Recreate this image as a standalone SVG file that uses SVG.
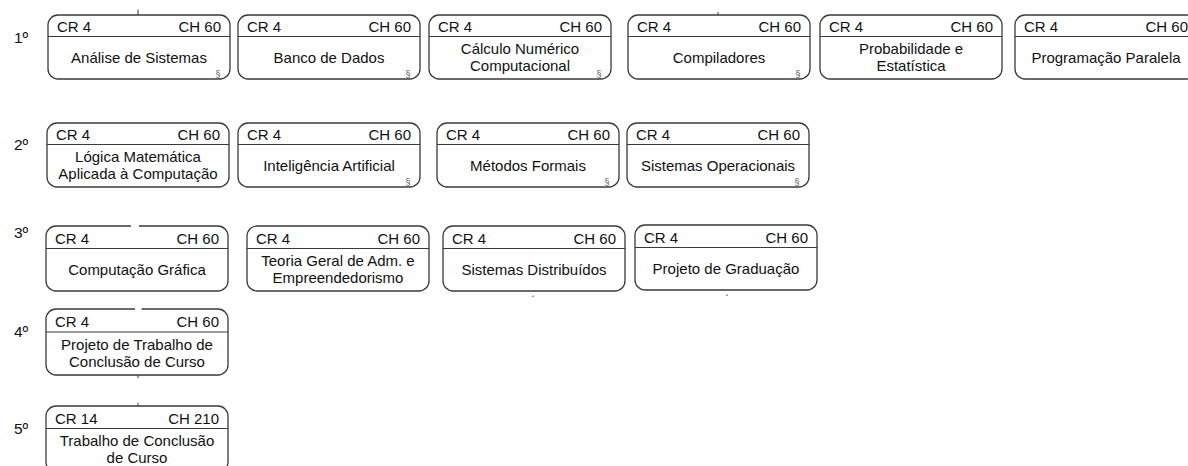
<svg xmlns="http://www.w3.org/2000/svg" width="1188" height="466" viewBox="0 0 1188 466">
  <defs>
    <style>
      .box { fill: #ffffff; stroke: #3a3a3a; stroke-width: 1.3; }
      .sep { stroke: #3a3a3a; stroke-width: 1.2; }
      text { font-family: "Liberation Sans", Arial, Helvetica, sans-serif; font-size: 15px; fill: #111111; }
      .cr { text-anchor: start; }
      .ch { text-anchor: end; }
      .t { text-anchor: middle; }
      .sec { font-size: 9px; fill: #555555; text-anchor: middle; }
      .sem { font-size: 15.5px; }
      .tick { stroke: #3a3a3a; stroke-width: 1; }
      .cut { stroke: #ffffff; stroke-width: 3; }
    </style>
  </defs>

  <rect width="1188" height="466" fill="#ffffff"/>

  <!-- semester labels -->
  <g id="semesters">
    <text class="sem" x="14" y="43">1º</text>
    <text class="sem" x="14" y="150">2º</text>
    <text class="sem" x="14" y="238">3º</text>
    <text class="sem" x="14" y="337">4º</text>
    <text class="sem" x="14" y="434">5º</text>
  </g>

  <!-- 1st semester -->
  <g id="analise-sistemas" transform="translate(48,15)">
    <rect class="box" x="0" y="0" width="182" height="64" rx="10"/>
    <line class="sep" x1="0" y1="21.5" x2="182" y2="21.5"/>
    <text class="cr" x="9" y="16.5">CR 4</text>
    <text class="ch" x="173" y="16.5">CH 60</text>
    <text class="t" x="91" y="47.8">Análise de Sistemas</text>
    <text class="sec" x="170" y="62">§</text>
  </g>
  <g id="banco-dados" transform="translate(238,15)">
    <rect class="box" x="0" y="0" width="182" height="64" rx="10"/>
    <line class="sep" x1="0" y1="21.5" x2="182" y2="21.5"/>
    <text class="cr" x="9" y="16.5">CR 4</text>
    <text class="ch" x="173" y="16.5">CH 60</text>
    <text class="t" x="91" y="47.8">Banco de Dados</text>
    <text class="sec" x="170" y="62">§</text>
  </g>
  <g id="calculo-numerico" transform="translate(429,15)">
    <rect class="box" x="0" y="0" width="182" height="64" rx="10"/>
    <line class="sep" x1="0" y1="21.5" x2="182" y2="21.5"/>
    <text class="cr" x="9" y="16.5">CR 4</text>
    <text class="ch" x="173" y="16.5">CH 60</text>
    <text class="t" x="91" y="39.3">Cálculo Numérico</text>
    <text class="t" x="91" y="56.3">Computacional</text>
    <text class="sec" x="170" y="62">§</text>
  </g>
  <g id="compiladores" transform="translate(628,15)">
    <rect class="box" x="0" y="0" width="182" height="64" rx="10"/>
    <line class="sep" x1="0" y1="21.5" x2="182" y2="21.5"/>
    <text class="cr" x="9" y="16.5">CR 4</text>
    <text class="ch" x="173" y="16.5">CH 60</text>
    <text class="t" x="91" y="47.8">Compiladores</text>
    <text class="sec" x="170" y="62">§</text>
  </g>
  <g id="probabilidade-estatistica" transform="translate(820,15)">
    <rect class="box" x="0" y="0" width="182" height="64" rx="10"/>
    <line class="sep" x1="0" y1="21.5" x2="182" y2="21.5"/>
    <text class="cr" x="9" y="16.5">CR 4</text>
    <text class="ch" x="173" y="16.5">CH 60</text>
    <text class="t" x="91" y="39.3">Probabilidade e</text>
    <text class="t" x="91" y="56.3">Estatística</text>
  </g>
  <g id="programacao-paralela" transform="translate(1015,15)">
    <rect class="box" x="0" y="0" width="182" height="64" rx="10"/>
    <line class="sep" x1="0" y1="21.5" x2="182" y2="21.5"/>
    <text class="cr" x="9" y="16.5">CR 4</text>
    <text class="ch" x="173" y="16.5">CH 60</text>
    <text class="t" x="91" y="47.8">Programação Paralela</text>
  </g>

  <!-- 2nd semester -->
  <g id="logica-matematica" transform="translate(47,123)">
    <rect class="box" x="0" y="0" width="182" height="64" rx="10"/>
    <line class="sep" x1="0" y1="21.5" x2="182" y2="21.5"/>
    <text class="cr" x="9" y="16.5">CR 4</text>
    <text class="ch" x="173" y="16.5">CH 60</text>
    <text class="t" x="91" y="39.3">Lógica Matemática</text>
    <text class="t" x="91" y="56.3">Aplicada à Computação</text>
  </g>
  <g id="inteligencia-artificial" transform="translate(238,123)">
    <rect class="box" x="0" y="0" width="182" height="64" rx="10"/>
    <line class="sep" x1="0" y1="21.5" x2="182" y2="21.5"/>
    <text class="cr" x="9" y="16.5">CR 4</text>
    <text class="ch" x="173" y="16.5">CH 60</text>
    <text class="t" x="91" y="47.8">Inteligência Artificial</text>
    <text class="sec" x="170" y="62">§</text>
  </g>
  <g id="metodos-formais" transform="translate(437,123)">
    <rect class="box" x="0" y="0" width="182" height="64" rx="10"/>
    <line class="sep" x1="0" y1="21.5" x2="182" y2="21.5"/>
    <text class="cr" x="9" y="16.5">CR 4</text>
    <text class="ch" x="173" y="16.5">CH 60</text>
    <text class="t" x="91" y="47.8">Métodos Formais</text>
    <text class="sec" x="170" y="62">§</text>
  </g>
  <g id="sistemas-operacionais" transform="translate(627,123)">
    <rect class="box" x="0" y="0" width="182" height="64" rx="10"/>
    <line class="sep" x1="0" y1="21.5" x2="182" y2="21.5"/>
    <text class="cr" x="9" y="16.5">CR 4</text>
    <text class="ch" x="173" y="16.5">CH 60</text>
    <text class="t" x="91" y="47.8">Sistemas Operacionais</text>
    <text class="sec" x="170" y="62">§</text>
  </g>

  <!-- 3rd semester -->
  <g id="computacao-grafica" transform="translate(46,226)">
    <rect class="box" x="0" y="0" width="182" height="65" rx="10"/>
    <line class="sep" x1="0" y1="22.5" x2="182" y2="22.5"/>
    <text class="cr" x="9" y="17.5">CR 4</text>
    <text class="ch" x="173" y="17.5">CH 60</text>
    <text class="t" x="91" y="48.8">Computação Gráfica</text>
  </g>
  <g id="teoria-geral-adm" transform="translate(247,226)">
    <rect class="box" x="0" y="0" width="182" height="65" rx="10"/>
    <line class="sep" x1="0" y1="22.5" x2="182" y2="22.5"/>
    <text class="cr" x="9" y="17.5">CR 4</text>
    <text class="ch" x="173" y="17.5">CH 60</text>
    <text class="t" x="91" y="40.3">Teoria Geral de Adm. e</text>
    <text class="t" x="91" y="57.3">Empreendedorismo</text>
  </g>
  <g id="sistemas-distribuidos" transform="translate(443,226)">
    <rect class="box" x="0" y="0" width="182" height="65" rx="10"/>
    <line class="sep" x1="0" y1="22.5" x2="182" y2="22.5"/>
    <text class="cr" x="9" y="17.5">CR 4</text>
    <text class="ch" x="173" y="17.5">CH 60</text>
    <text class="t" x="91" y="48.8">Sistemas Distribuídos</text>
  </g>
  <g id="projeto-graduacao" transform="translate(635,225)">
    <rect class="box" x="0" y="0" width="182" height="65" rx="10"/>
    <line class="sep" x1="0" y1="22.5" x2="182" y2="22.5"/>
    <text class="cr" x="9" y="17.5">CR 4</text>
    <text class="ch" x="173" y="17.5">CH 60</text>
    <text class="t" x="91" y="48.8">Projeto de Graduação</text>
  </g>

  <!-- 4th semester -->
  <g id="projeto-tcc" transform="translate(46,309)">
    <rect class="box" x="0" y="0" width="182" height="66" rx="10"/>
    <line class="sep" x1="0" y1="23" x2="182" y2="23"/>
    <text class="cr" x="9" y="18">CR 4</text>
    <text class="ch" x="173" y="18">CH 60</text>
    <text class="t" x="91" y="41">Projeto de Trabalho de</text>
    <text class="t" x="91" y="58">Conclusão de Curso</text>
  </g>

  <!-- 5th semester -->
  <g id="tcc" transform="translate(46,406)">
    <rect class="box" x="0" y="0" width="182" height="66" rx="10"/>
    <line class="sep" x1="0" y1="22.5" x2="182" y2="22.5"/>
    <text class="cr" x="9" y="17.5">CR 14</text>
    <text class="ch" x="173" y="17.5">CH 210</text>
    <text class="t" x="91" y="40">Trabalho de Conclusão</text>
    <text class="t" x="91" y="57">de Curso</text>
  </g>

  <!-- connector stubs -->
  <g id="connectors">
    <line class="tick" x1="138" y1="9.5" x2="138" y2="15"/>
    <line class="tick" x1="718" y1="12" x2="718" y2="15"/>
    <line class="cut" x1="131" y1="226" x2="139" y2="226"/>
    <line class="cut" x1="135" y1="309" x2="141.5" y2="309"/>
    <line class="tick" x1="138" y1="375" x2="138" y2="378"/>
    <line class="tick" x1="138" y1="403" x2="138" y2="406"/>
    <line class="tick" x1="533" y1="295.5" x2="533" y2="297"/>
    <line class="tick" x1="727" y1="294.5" x2="727" y2="296"/>
  </g>
</svg>
